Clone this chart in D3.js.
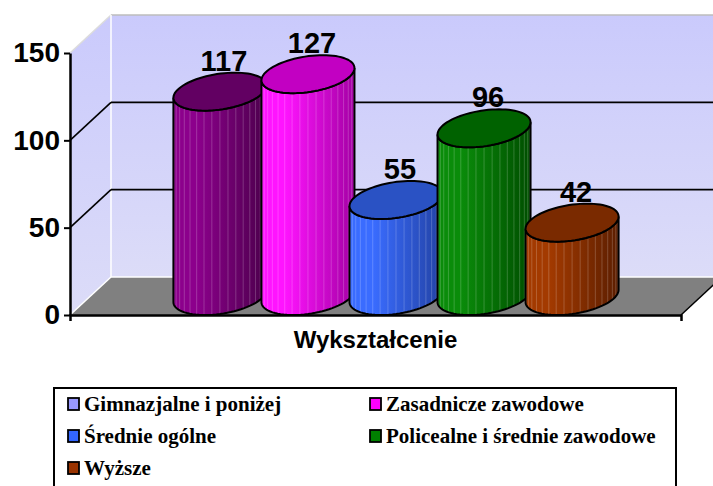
<!DOCTYPE html>
<html>
<head>
<meta charset="utf-8">
<script src="https://cdn.jsdelivr.net/npm/d3@7"></script>
<style>
body { margin: 0; background: #fff; }
</style>
</head>
<body>
<div class="container"></div>
<script>
// dane
var categories = ["Wykształcenie"];
var seriesNames = ["Gimnazjalne i poniżej", "Zasadnicze zawodowe", "Średnie ogólne", "Policealne i średnie zawodowe", "Wyższe"];
var seriesValues = [117, 127, 55, 96, 42];
var yTicks = [0, 50, 100, 150];

// kolory serii
var legendColors = ["#9999FF", "#FF00FF", "#3366FF", "#008000", "#993300"];
var bodyLight = ["#8c008c", "#ff14ff", "#3a6cff", "#0a8c0a", "#a33a00"];
var bodyDark = ["#4c004c", "#a400a4", "#2242a4", "#004e00", "#5c1e00"];
var topColors = ["#620062", "#c200c2", "#2a52c4", "#006200", "#7a2a00"];

// rozmiar
var W = 713, H = 486;
var depth = {dx: 41, dy: -38};

var svg = d3.select(".container").append("svg")
    .attr("width", W).attr("height", H)
    .style("font-family", "'Liberation Sans', Arial, sans-serif");

var defs = svg.append("defs");

// skale
var y = d3.scaleLinear().domain([0, 150]).range([315, 53]);
var xCat = d3.scaleBand().domain(categories).range([70, 681]).paddingOuter(0.194).paddingInner(0);
var xSer = d3.scaleBand().domain(seriesNames).range([0, xCat.bandwidth()]);

var x0 = 70, x1 = 681;
var yb = y(0), yt = y(150);

// sciany
var wallGrad = defs.append("linearGradient").attr("id", "wall")
    .attr("x1", 0).attr("y1", 0).attr("x2", 0).attr("y2", 1);
wallGrad.append("stop").attr("offset", 0).attr("stop-color", "#cacafc");
wallGrad.append("stop").attr("offset", 1).attr("stop-color", "#dcdcf8");

svg.append("polygon")
    .attr("points", [[x0, yt], [x0 + depth.dx, yt + depth.dy], [x0 + depth.dx, yb + depth.dy], [x0, yb]].join(" "))
    .attr("fill", "url(#wall)");
svg.append("rect")
    .attr("x", x0 + depth.dx).attr("y", yt + depth.dy)
    .attr("width", W - x0 - depth.dx + 20).attr("height", yb - yt)
    .attr("fill", "url(#wall)");

// podloga
svg.append("polygon")
    .attr("points", [[x0, yb], [x1, yb], [x1 + depth.dx, yb + depth.dy], [x0 + depth.dx, yb + depth.dy]].join(" "))
    .attr("fill", "#808080");

// krawedzie scian
svg.append("line").attr("x1", x0 + depth.dx).attr("y1", yt + depth.dy).attr("x2", W + 20).attr("y2", yt + depth.dy)
    .attr("stroke", "#bdbdbd").attr("stroke-width", 1.5);
svg.append("line").attr("x1", x0).attr("y1", yt).attr("x2", x0 + depth.dx).attr("y2", yt + depth.dy)
    .attr("stroke", "#dcdcdc").attr("stroke-width", 1.5);
svg.append("line").attr("x1", x0 + depth.dx).attr("y1", yt + depth.dy).attr("x2", x0 + depth.dx).attr("y2", yb + depth.dy)
    .attr("stroke", "#fff").attr("stroke-width", 1.5);
svg.append("line").attr("x1", x0).attr("y1", yb).attr("x2", x0 + depth.dx).attr("y2", yb + depth.dy)
    .attr("stroke", "#fff").attr("stroke-width", 1.5);
svg.append("line").attr("x1", x0 + depth.dx).attr("y1", yb + depth.dy).attr("x2", W + 20).attr("y2", yb + depth.dy)
    .attr("stroke", "#fff").attr("stroke-width", 1.5);

// linie siatki
var grid = svg.append("g").attr("class", "grid");
yTicks.filter(function(t) { return t > 0 && t < 150; }).forEach(function(t) {
  grid.append("line").attr("x1", x0).attr("y1", y(t)).attr("x2", x0 + depth.dx).attr("y2", y(t) + depth.dy)
      .attr("stroke", "#000").attr("stroke-width", 1.6);
  grid.append("line").attr("x1", x0 + depth.dx).attr("y1", y(t) + depth.dy).attr("x2", W + 20).attr("y2", y(t) + depth.dy)
      .attr("stroke", "#000").attr("stroke-width", 1.6);
});

// os X
var xAxis = svg.append("g")
    .attr("transform", "translate(0," + yb + ")")
    .call(d3.axisBottom(xCat).tickSizeInner(0).tickSizeOuter(6).tickPadding(16));
xAxis.select(".domain").attr("stroke-width", 2.5);
xAxis.selectAll("text").attr("font-size", 24).attr("font-weight", "bold").attr("fill", "#000")
    .attr("font-family", "'Liberation Sans', Arial, sans-serif");
svg.append("line").attr("x1", x1).attr("y1", yb).attr("x2", x1 + depth.dx).attr("y2", yb + depth.dy)
    .attr("stroke", "#000").attr("stroke-width", 1.5);

// os Y
var yAxis = svg.append("g")
    .attr("transform", "translate(" + x0 + ",0)")
    .call(d3.axisLeft(y).tickValues(yTicks).tickSizeInner(6).tickSizeOuter(0).tickPadding(4));
yAxis.select(".domain").attr("stroke-width", 2.5);
yAxis.selectAll("line").attr("stroke-width", 2);
yAxis.selectAll("text").attr("font-size", 28).attr("font-weight", "bold").attr("fill", "#000")
    .attr("font-family", "'Liberation Sans', Arial, sans-serif");

// walce
var a = xSer.bandwidth() / 2;
var bx = 15, by = -depth.dy / 2;
var tR = Math.atan2(bx, a), tL = tR + Math.PI;
function pt(cx, cy, t) {
  return [cx + a * Math.cos(t) + bx * Math.sin(t), cy - by * Math.sin(t)];
}
function arc(cx, cy, from, to, n) {
  var pts = [];
  for (var k = 0; k <= n; k++) pts.push(pt(cx, cy, from + (to - from) * k / n));
  return pts;
}
var line = d3.line();

seriesNames.forEach(function(name, i) {
  var g = defs.append("linearGradient").attr("id", "body" + i)
      .attr("x1", 0).attr("y1", 0).attr("x2", 1).attr("y2", 0);
  g.append("stop").attr("offset", 0).attr("stop-color", bodyLight[i]);
  g.append("stop").attr("offset", 0.25).attr("stop-color", bodyLight[i]);
  g.append("stop").attr("offset", 1).attr("stop-color", bodyDark[i]);
});

var bars = svg.append("g").attr("class", "bars");
seriesValues.forEach(function(v, i) {
  var cx = xCat(categories[0]) + xSer(seriesNames[i]) + xSer.bandwidth() / 2 + depth.dx / 2;
  var cyB = y(0) + depth.dy / 2;
  var cyT = y(v) + depth.dy / 2;
  var grp = bars.append("g");

  var body = arc(cx, cyB, tL, tR + 2 * Math.PI, 40)
      .concat(arc(cx, cyT, tR + 2 * Math.PI, tL, 40));
  grp.append("path").attr("d", line(body) + "Z")
      .attr("fill", "url(#body" + i + ")").attr("stroke", "none");

  // pionowe paski
  for (var k = 1; k < 18; k++) {
    var t = tL + (Math.PI) * k / 18;
    var p1 = pt(cx, cyT, t), p2 = pt(cx, cyB, t);
    grp.append("line").attr("x1", p1[0]).attr("y1", p1[1]).attr("x2", p2[0]).attr("y2", p2[1])
        .attr("stroke", "#fff").attr("stroke-opacity", 0.2).attr("stroke-width", 1);
  }
  grp.append("path").attr("d", line(body) + "Z")
      .attr("fill", "none").attr("stroke", "#000").attr("stroke-width", 2);

  grp.append("path").attr("d", line(arc(cx, cyT, 0, 2 * Math.PI, 80)) + "Z")
      .attr("fill", topColors[i]).attr("stroke", "#000").attr("stroke-width", 2);
});

// etykiety wartosci
seriesValues.forEach(function(v, i) {
  var cx = xCat(categories[0]) + xSer(seriesNames[i]) + xSer.bandwidth() / 2 + depth.dx / 2;
  svg.append("text")
      .attr("x", cx + 4).attr("y", y(v) + depth.dy / 2 - by - 2)
      .attr("text-anchor", "middle")
      .attr("font-size", 29).attr("font-weight", "bold")
      .text(v);
});

// legenda
var legend = svg.append("g").attr("class", "legend");
legend.append("rect").attr("x", 54).attr("y", 388).attr("width", 622).attr("height", 130)
    .attr("fill", "#fff").attr("stroke", "#000").attr("stroke-width", 2);
var colX = [68, 370], rowY = [411, 443, 475];
seriesNames.forEach(function(name, i) {
  var lx = colX[i % 2], ly = rowY[Math.floor(i / 2)];
  legend.append("rect").attr("x", lx).attr("y", ly - 13).attr("width", 11).attr("height", 12)
      .attr("fill", legendColors[i]).attr("stroke", "#000").attr("stroke-width", 1.8);
  legend.append("text").attr("x", lx + 16).attr("y", ly)
      .attr("font-family", "'Liberation Serif', 'Times New Roman', serif")
      .attr("font-weight", "bold").attr("font-size", 21)
      .text(name);
});
</script>
</body>
</html>
